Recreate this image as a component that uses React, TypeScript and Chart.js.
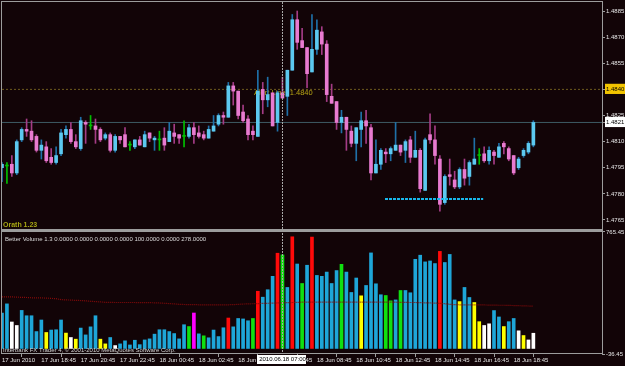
import React, { useEffect, useRef } from 'react';
import { Chart, registerables } from 'chart.js';

Chart.register(...registerables);

// ---------- data ----------
const timeLabels = [
  '17 Jun 2010', '17 Jun 18:45', '17 Jun 20:45', '17 Jun 22:45', '18 Jun 00:45',
  '18 Jun 02:45', '18 Jun 04:45', '18 Jun 06:45', '18 Jun 08:45', '18 Jun 10:45',
  '18 Jun 12:45', '18 Jun 14:45', '18 Jun 16:45', '18 Jun 18:45',
];
const barsPerLabel = 8;

const opens = [
  1.4795, 1.4796, 1.4797, 1.4792, 1.4811, 1.4817, 1.4816, 1.4813, 1.4805, 1.4807,
  1.4801, 1.4798, 1.4803, 1.4814, 1.4817, 1.4810, 1.4806, 1.4821, 1.4819, 1.4819,
  1.4817, 1.4812, 1.4814, 1.4805, 1.4813, 1.4814, 1.4808, 1.4807, 1.4811, 1.4807,
  1.4815, 1.4811, 1.4811, 1.4812, 1.4810, 1.4815, 1.4814, 1.4813, 1.4813, 1.4818,
  1.4815, 1.4814, 1.4812, 1.4816, 1.4820, 1.4825, 1.4824, 1.4842, 1.4839, 1.4827,
  1.4823, 1.4816, 1.4813, 1.4840, 1.4834, 1.4838, 1.4821, 1.4838, 1.4836, 1.4851,
  1.4880, 1.4868, 1.4864, 1.4850, 1.4863, 1.4873, 1.4866, 1.4836, 1.4833, 1.4821,
  1.4824, 1.4816, 1.4809, 1.4817, 1.4822, 1.4818, 1.4792, 1.4797, 1.4804, 1.4803,
  1.4805, 1.4808, 1.4805, 1.4811, 1.4801, 1.4805, 1.4782, 1.4814, 1.4811, 1.4800,
  1.4775, 1.4791, 1.4788, 1.4784, 1.4794, 1.4790, 1.4797, 1.4802, 1.4803, 1.4799,
  1.4804, 1.4801, 1.4809, 1.4806, 1.4802, 1.4795, 1.4802, 1.4804, 1.4808,
];
const highs = [
  1.4798, 1.4798, 1.4802, 1.4811, 1.4818, 1.4823, 1.4822, 1.4814, 1.4811, 1.4810,
  1.4806, 1.4807, 1.4817, 1.4819, 1.4821, 1.4814, 1.4824, 1.4822, 1.4825, 1.4823,
  1.4818, 1.4815, 1.4815, 1.4814, 1.4813, 1.4818, 1.4810, 1.4811, 1.4813, 1.4816,
  1.4815, 1.4813, 1.4816, 1.4818, 1.4821, 1.4820, 1.4814, 1.4822, 1.4820, 1.4821,
  1.4819, 1.4816, 1.4819, 1.4825, 1.4826, 1.4827, 1.4844, 1.4844, 1.4839, 1.4831,
  1.4825, 1.4819, 1.4851, 1.4844, 1.4847, 1.4838, 1.4839, 1.4847, 1.4851, 1.4883,
  1.4885, 1.4875, 1.4864, 1.4883, 1.4880, 1.4876, 1.4868, 1.4843, 1.4833, 1.4828,
  1.4824, 1.4819, 1.4818, 1.4827, 1.4828, 1.4820, 1.4811, 1.4806, 1.4806, 1.4807,
  1.4821, 1.4808, 1.4811, 1.4813, 1.4816, 1.4806, 1.4812, 1.4826, 1.4819, 1.4802,
  1.4791, 1.4800, 1.4793, 1.4795, 1.4800, 1.4799, 1.4812, 1.4806, 1.4807, 1.4807,
  1.4805, 1.4809, 1.4810, 1.4807, 1.4802, 1.4801, 1.4806, 1.4810, 1.4822,
];
const lows = [
  1.4787, 1.4786, 1.4790, 1.4791, 1.4810, 1.4813, 1.4810, 1.4804, 1.4800, 1.4798,
  1.4797, 1.4797, 1.4802, 1.4812, 1.4809, 1.4806, 1.4805, 1.4809, 1.4817, 1.4809,
  1.4810, 1.4811, 1.4804, 1.4804, 1.4809, 1.4807, 1.4805, 1.4806, 1.4808, 1.4807,
  1.4810, 1.4805, 1.4805, 1.4805, 1.4810, 1.4809, 1.4809, 1.4807, 1.4812, 1.4809,
  1.4812, 1.4811, 1.4812, 1.4816, 1.4819, 1.4820, 1.4824, 1.4831, 1.4823, 1.4821,
  1.4811, 1.4811, 1.4813, 1.4826, 1.4830, 1.4819, 1.4816, 1.4835, 1.4825, 1.4851,
  1.4863, 1.4864, 1.4841, 1.4850, 1.4860, 1.4860, 1.4833, 1.4832, 1.4817, 1.4815,
  1.4805, 1.4807, 1.4799, 1.4807, 1.4809, 1.4788, 1.4792, 1.4794, 1.4798, 1.4799,
  1.4805, 1.4802, 1.4798, 1.4798, 1.4801, 1.4781, 1.4782, 1.4809, 1.4797, 1.4770,
  1.4774, 1.4785, 1.4783, 1.4783, 1.4785, 1.4785, 1.4797, 1.4797, 1.4798, 1.4797,
  1.4797, 1.4801, 1.4803, 1.4799, 1.4791, 1.4794, 1.4801, 1.4803, 1.4807,
];
const closes = [
  1.4797, 1.4796, 1.4792, 1.4810, 1.4817, 1.4816, 1.4811, 1.4805, 1.4808, 1.4799,
  1.4798, 1.4802, 1.4815, 1.4817, 1.4810, 1.4807, 1.4822, 1.4820, 1.4819, 1.4817,
  1.4811, 1.4814, 1.4805, 1.4813, 1.4811, 1.4807, 1.4808, 1.4811, 1.4808, 1.4814,
  1.4812, 1.4812, 1.4811, 1.4808, 1.4816, 1.4813, 1.4812, 1.4813, 1.4818, 1.4814,
  1.4813, 1.4812, 1.4817, 1.4819, 1.4825, 1.4824, 1.4842, 1.4839, 1.4825, 1.4822,
  1.4814, 1.4814, 1.4839, 1.4834, 1.4837, 1.4819, 1.4838, 1.4835, 1.4851, 1.4880,
  1.4867, 1.4864, 1.4849, 1.4863, 1.4874, 1.4866, 1.4837, 1.4832, 1.4821, 1.4824,
  1.4817, 1.4809, 1.4818, 1.4822, 1.4819, 1.4792, 1.4797, 1.4805, 1.4803, 1.4806,
  1.4808, 1.4804, 1.4810, 1.4801, 1.4805, 1.4783, 1.4811, 1.4811, 1.4802, 1.4774,
  1.4790, 1.4790, 1.4784, 1.4794, 1.4789, 1.4798, 1.4800, 1.4802, 1.4799, 1.4805,
  1.4802, 1.4807, 1.4807, 1.4800, 1.4792, 1.4800, 1.4805, 1.4809, 1.4821,
];

const volumes = [
  233, 293, 174, 151, 250, 215, 215, 111, 187, 105,
  121, 123, 187, 101, 72, 61, 134, 89, 142, 215,
  61, 30, 72, 19, 30, 50, 23, 54, 25, 56,
  63, 94, 123, 123, 111, 98, 63, 156, 144, 233,
  96, 83, 70, 121, 78, 136, 200, 142, 197, 194,
  182, 197, 376, 337, 386, 474, 626, 615, 401, 734,
  555, 427, 547, 732, 480, 474, 502, 427, 512, 553,
  502, 368, 463, 346, 414, 628, 425, 353, 348, 313,
  319, 381, 381, 366, 586, 613, 569, 575, 558, 638,
  565, 618, 319, 308, 401, 335, 302, 176, 151, 162,
  249, 207, 144, 176, 197, 116, 85, 56, 100,
];
// c = normal, w = low, y = low-ish churn, r = climax, g = churn, m = climax churn
const volumeKinds = [
  'c', 'c', 'w', 'w', 'c', 'c', 'c', 'c', 'c', 'y',
  'c', 'c', 'c', 'y', 'w', 'y', 'c', 'c', 'c', 'c',
  'y', 'y', 'c', 'w', 'c', 'c', 'c', 'c', 'c', 'c',
  'c', 'c', 'c', 'c', 'c', 'c', 'c', 'c', 'g', 'm',
  'c', 'g', 'c', 'c', 'c', 'c', 'r', 'c', 'c', 'c',
  'c', 'g', 'r', 'c', 'c', 'c', 'r', 'g', 'c', 'r',
  'c', 'g', 'c', 'r', 'c', 'c', 'c', 'c', 'c', 'g',
  'c', 'c', 'c', 'y', 'c', 'c', 'c', 'c', 'g', 'g',
  'c', 'g', 'c', 'c', 'c', 'c', 'c', 'c', 'c', 'r',
  'c', 'c', 'c', 'y', 'c', 'c', 'y', 'y', 'w', 'w',
  'c', 'c', 'y', 'c', 'c', 'w', 'y', 'w', 'w',
];
const volumeAverage = [
  339, 339, 339, 337, 336, 335, 333, 333, 332, 331,
  329, 327, 321, 319, 318, 316, 315, 313, 310, 308,
  306, 303, 303, 302, 302, 302, 302, 302, 301, 301,
  301, 300, 299, 297, 295, 293, 290, 289, 288, 288,
  287, 287, 286, 286, 286, 286, 287, 288, 290, 292,
  293, 294, 295, 296, 297, 298, 299, 300, 301, 302,
  303, 304, 304, 304, 304, 304, 304, 304, 304, 304,
  304, 304, 304, 304, 304, 304, 304, 304, 304, 304,
  304, 303, 303, 302, 302, 301, 300, 299, 298, 296,
  294, 290, 288, 287, 287, 286, 286, 286, 286, 285,
  285, 284, 284, 283, 282, 281, 280, 279, 278,
];

const priceTicks = [1.4885, 1.4870, 1.4855, 1.4840, 1.4825, 1.4821, 1.4810, 1.4795, 1.4780, 1.4765];
const volumeTicks = [765.45, -36.45];
const alertLevel = 1.4840;
const bidPrice = 1.4821;
const supportLevel = 1.4777;
const supportFrom = 77.85;
const supportTo = 97.8;
const alertTextAt = 51.2;
const crosshairIndex = 57;
const crosshairTime = '2010.06.18 07:00';

// ---------- layout / style ----------
const BG = '#120407';
const FRAME = '#9C9C9C';
const TEXT = '#E6E6E6';
const FONT = '"Liberation Sans", Arial, sans-serif';
const X_MAX = 121.95;
const PRICE_TOP = 1.489017;
const PRICE_BOTTOM = 1.475868;
const VOL_TOP = 772.0;
const VOL_BOTTOM = -36.45;

const volumeColors: Record<string, string> = {
  c: '#1EA6D8', w: '#FFFFFF', y: '#FFFF00', r: '#FF0A0A', g: '#10E010', m: '#FF00FF',
};

export default function App() {
  const canvasRef = useRef<HTMLCanvasElement | null>(null);

  useEffect(() => {
    const canvas = canvasRef.current;
    if (!canvas) return;
    const n = opens.length;
    const idx = opens.map((_, i) => i);
    const kind = idx.map((i) => (closes[i] > opens[i] ? 'up' : closes[i] < opens[i] ? 'down' : 'flat'));
    const bodyColor = kind.map((k) => (k === 'up' ? '#5CC9F0' : k === 'down' ? '#E87BD0' : '#00C000'));
    const wickColor = kind.map((k) => (k === 'up' ? '#1F70A8' : k === 'down' ? '#A43C86' : '#00C000'));

    const isSpecial = (v: number) => v === alertLevel || v === bidPrice;

    const decor = {
      id: 'mt4Decor',
      beforeDraw(chart: any) {
        const { ctx, width, height } = chart;
        ctx.save();
        ctx.fillStyle = BG;
        ctx.fillRect(0, 0, width, height);
        ctx.restore();
      },
      beforeDatasetsDraw(chart: any) {
        const { ctx } = chart;
        const x = chart.scales.x;
        const y = chart.scales.y;
        ctx.save();
        ctx.font = `7.5px ${FONT}`;
        ctx.fillStyle = '#B6A414';
        ctx.textAlign = 'left';
        ctx.textBaseline = 'alphabetic';
        ctx.fillText(`Alert Line: ${alertLevel.toFixed(4)}`, x.getPixelForValue(alertTextAt), y.getPixelForValue(alertLevel) + 6);
        ctx.restore();
      },
      afterDatasetsDraw(chart: any) {
        const { ctx } = chart;
        const x = chart.scales.x;
        const cx = Math.round(x.getPixelForValue(crosshairIndex)) + 0.5;
        ctx.save();
        ctx.strokeStyle = '#A8A8A8';
        ctx.lineWidth = 1;
        ctx.setLineDash([2, 1]);
        ctx.beginPath();
        ctx.moveTo(cx, 2);
        ctx.lineTo(cx, 353);
        ctx.stroke();
        ctx.setLineDash([]);

        ctx.textAlign = 'left';
        ctx.textBaseline = 'alphabetic';
        ctx.font = `bold 7px ${FONT}`;
        ctx.fillStyle = '#A6A614';
        ctx.fillText('Orath 1.23', 3, 227);

        ctx.font = `6px ${FONT}`;
        ctx.fillStyle = '#DADADA';
        const last = n - 1;
        ctx.fillText(
          `Better Volume 1.3 0.0000 0.0000 0.0000 0.0000 ${volumes[last].toFixed(4)} 0.0000 ${volumeAverage[last].toFixed(4)}`,
          5, 240.5,
        );
        ctx.fillStyle = '#D4D4D4';
        ctx.fillText('Interbank FX Trader 4, \u00A9 2001-2010 MetaQuotes Software Corp.', 3, 352);
        ctx.restore();
      },
      afterDraw(chart: any) {
        const { ctx } = chart;
        const x = chart.scales.x;
        const cx = Math.round(x.getPixelForValue(crosshairIndex)) + 0.5;
        ctx.save();
        ctx.strokeStyle = FRAME;
        ctx.lineWidth = 1;
        ctx.strokeRect(1.5, 1.5, 601, 228);
        ctx.fillStyle = FRAME;
        ctx.fillRect(1, 229, 602, 3);
        ctx.strokeRect(1.5, 231.5, 601, 122);

        ctx.fillStyle = '#FFFFFF';
        ctx.fillRect(cx - 25.5, 355, 49, 9);
        ctx.fillStyle = '#000000';
        ctx.font = `6px ${FONT}`;
        ctx.textAlign = 'center';
        ctx.textBaseline = 'middle';
        ctx.fillText(crosshairTime, cx, 359.8);
        ctx.restore();
      },
    };

    const tickFont = { family: FONT, size: 6 };

    const chart = new Chart(canvas, {
      type: 'bar',
      data: {
        datasets: [
          {
            type: 'line',
            label: 'Support',
            data: [{ x: supportFrom, y: supportLevel }, { x: supportTo, y: supportLevel }],
            yAxisID: 'y',
            borderColor: '#18B8EC',
            borderWidth: 2,
            borderDash: [3, 1],
            borderCapStyle: 'butt',
            pointRadius: 0,
            order: 0,
          },
          {
            type: 'line',
            label: 'Volume average',
            data: idx.map((i) => ({ x: i, y: volumeAverage[i] })),
            yAxisID: 'yv',
            borderColor: '#860A0A',
            borderWidth: 1.2,
            borderDash: [1, 1],
            pointRadius: 0,
            order: 0,
          },
          {
            type: 'bar',
            label: 'Bodies',
            data: idx.map((i) => ({ x: i, y: [opens[i], closes[i]] })),
            yAxisID: 'y',
            backgroundColor: bodyColor,
            borderWidth: 0,
            barThickness: 3,
            minBarLength: 1,
            grouped: false,
            order: 1,
          },
          {
            type: 'bar',
            label: 'Wicks',
            data: idx.map((i) => ({ x: i, y: [lows[i], highs[i]] })),
            yAxisID: 'y',
            backgroundColor: wickColor,
            borderWidth: 0,
            barThickness: 1,
            grouped: false,
            order: 2,
          },
          {
            type: 'bar',
            label: 'Volume',
            data: idx.map((i) => ({ x: i, y: volumes[i] })),
            yAxisID: 'yv',
            backgroundColor: volumeKinds.map((k) => volumeColors[k]),
            borderWidth: 0,
            barThickness: 3,
            grouped: false,
            order: 2,
          },
          {
            type: 'line',
            label: 'Alert',
            data: [{ x: 0, y: alertLevel }, { x: X_MAX, y: alertLevel }],
            yAxisID: 'y',
            borderColor: '#6E5C1E',
            borderWidth: 1,
            borderDash: [2, 2],
            pointRadius: 0,
            order: 3,
          },
          {
            type: 'line',
            label: 'Bid',
            data: [{ x: 0, y: bidPrice }, { x: X_MAX, y: bidPrice }],
            yAxisID: 'y',
            borderColor: '#3E5B64',
            borderWidth: 1,
            pointRadius: 0,
            order: 3,
          },
        ] as any,
      },
      options: {
        responsive: false,
        animation: false,
        devicePixelRatio: 1,
        events: [],
        layout: { padding: { left: 2, top: 2, right: 0, bottom: 0 } },
        plugins: { legend: { display: false }, tooltip: { enabled: false } },
        scales: {
          x: {
            type: 'linear',
            position: 'bottom',
            min: 0,
            max: X_MAX,
            offset: false,
            afterBuildTicks: (s: any) => {
              s.ticks = timeLabels.map((_, k) => ({ value: k * barsPerLabel }));
            },
            afterFit: (s: any) => {
              s.height = 12;
              s.paddingLeft = 0;
              s.paddingRight = 0;
            },
            ticks: {
              autoSkip: false,
              maxRotation: 0,
              minRotation: 0,
              align: 'start',
              padding: 0,
              font: tickFont,
              color: TEXT,
              callback: (_v: any, i: number) => timeLabels[i],
            },
            grid: { drawOnChartArea: false, drawTicks: true, tickLength: 3, color: FRAME },
            border: { display: false },
          },
          y: {
            type: 'linear',
            position: 'right',
            stack: 'panels',
            stackWeight: 229,
            min: PRICE_BOTTOM,
            max: PRICE_TOP,
            afterBuildTicks: (s: any) => {
              s.ticks = priceTicks.map((v) => ({ value: v }));
            },
            afterFit: (s: any) => {
              s.width = 23;
              s.paddingTop = 0;
              s.paddingBottom = 0;
            },
            ticks: {
              autoSkip: false,
              padding: 1,
              font: tickFont,
              color: (c: any) => (c.tick && isSpecial(c.tick.value) ? '#000000' : TEXT),
              showLabelBackdrop: (c: any) => !!(c.tick && isSpecial(c.tick.value)),
              backdropColor: (c: any) =>
                c.tick && c.tick.value === alertLevel ? '#F2C400' : '#FFFFFF',
              backdropPadding: { top: 2, bottom: 1, left: 1, right: 4 },
              callback: (v: any) => Number(v).toFixed(4),
            },
            grid: { drawOnChartArea: false, drawTicks: true, tickLength: 3, color: FRAME },
            border: { display: false },
          },
          yv: {
            type: 'linear',
            position: 'right',
            stack: 'panels',
            stackWeight: 123,
            min: VOL_BOTTOM,
            max: VOL_TOP,
            afterBuildTicks: (s: any) => {
              s.ticks = volumeTicks.map((v) => ({ value: v }));
            },
            afterFit: (s: any) => {
              s.width = 23;
              s.paddingTop = 0;
              s.paddingBottom = 0;
            },
            ticks: {
              autoSkip: false,
              padding: 1,
              font: tickFont,
              color: TEXT,
              callback: (v: any) => Number(v).toFixed(2),
            },
            grid: { drawOnChartArea: false, drawTicks: true, tickLength: 3, color: FRAME },
            border: { display: false },
          },
        },
      } as any,
      plugins: [decor],
    });

    return () => chart.destroy();
  }, []);

  return (
    <div style={{ position: 'fixed', left: 0, top: 0, width: 625, height: 366, background: BG }}>
      <canvas ref={canvasRef} width={625} height={366} style={{ display: 'block', width: 625, height: 366 }} />
    </div>
  );
}
